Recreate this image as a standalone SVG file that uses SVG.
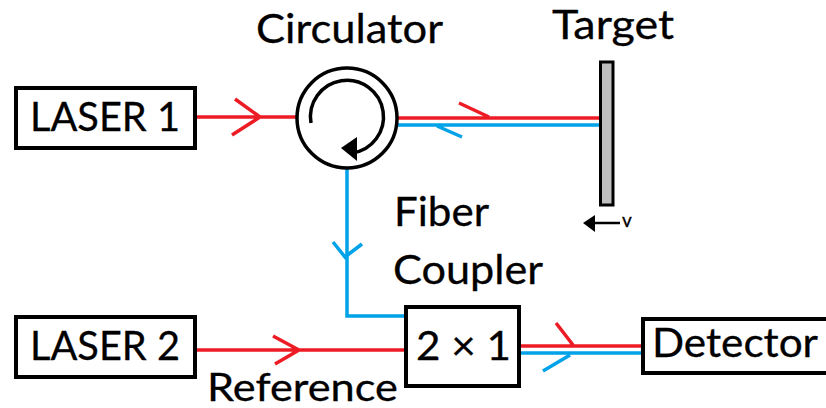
<svg xmlns="http://www.w3.org/2000/svg" width="826" height="408" viewBox="0 0 826 408">
<style>
text{font-family:"Lato","Open Sans","Liberation Sans",sans-serif;font-size:40px;fill:#000;stroke:#000;stroke-width:.3}
.box{fill:#fff;stroke:#000;stroke-width:4}
.r{fill:none;stroke:#ed1c24;stroke-width:3.5}
.b{fill:none;stroke:#00a2e8;stroke-width:3.5}
.k{fill:none;stroke:#000;stroke-width:3.5}
</style>
<rect width="826" height="408" fill="#fff"/>
<g id="connectors">
<path class="r" d="M195 117H297M235 99L260 117L232 135"/>
<path class="r" d="M195 350H405M273 336L299 350L275 364"/>
<path class="r" d="M397 118H600M459 103L489 117"/>
<path class="b" d="M396 125H601M437 126L462 137"/>
<path class="b" d="M347 168V316H405M333 242L345 257L362 244"/>
<path class="r" d="M520 346H642M556 323L573 345"/>
<path class="b" d="M520 353H642M543 371L570 355"/>
</g>
<g id="laser1"><rect class="box" x="16" y="88" width="179" height="60"/><text x="30" y="131" textLength="150" lengthAdjust="spacingAndGlyphs">LASER 1</text></g>
<g id="laser2"><rect class="box" x="16" y="317" width="179" height="60"/><text x="30" y="360" textLength="150" lengthAdjust="spacingAndGlyphs">LASER 2</text></g>
<g id="circulator">
<circle class="k" cx="347" cy="118" r="50" fill="#fff"/>
<path class="k" d="M311 123A36.500 36.500 0 1 1 352 153"/>
<polygon points="341,148 357,137 357,161" fill="#000"/>
<text x="256" y="43" textLength="187" lengthAdjust="spacingAndGlyphs">Circulator</text>
</g>
<g id="target">
<rect x="600.500" y="62" width="12.500" height="143" fill="#bfbfbf" stroke="#000" stroke-width="3"/>
<text x="552" y="39" textLength="122" lengthAdjust="spacingAndGlyphs">Target</text>
<path d="M592 223H620" stroke="#000" stroke-width="2.500"/>
<polygon points="583,223 595,215 595,232" fill="#000"/>
<text x="622" y="227" style="font-size:19px">v</text>
</g>
<g id="coupler">
<rect class="box" x="406" y="307" width="113" height="79"/>
<text x="416" y="360" textLength="95" lengthAdjust="spacingAndGlyphs">2 × 1</text>
<text x="394" y="226" textLength="95" lengthAdjust="spacingAndGlyphs">Fiber</text>
<text x="393" y="284" textLength="150" lengthAdjust="spacingAndGlyphs">Coupler</text>
</g>
<g id="detector"><rect class="box" x="643" y="319" width="190" height="54"/><text x="652" y="357" textLength="166" lengthAdjust="spacingAndGlyphs">Detector</text></g>
<text id="reference" x="207" y="401" textLength="191" lengthAdjust="spacingAndGlyphs" style="font-size:38px">Reference</text>
</svg>
